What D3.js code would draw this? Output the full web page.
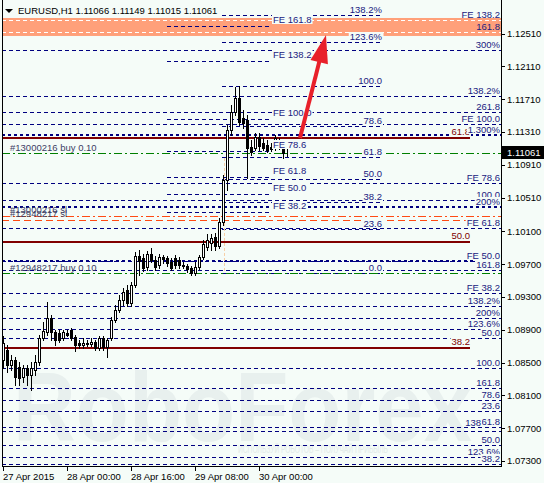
<!DOCTYPE html>
<html><head><meta charset="utf-8">
<script src="https://cdn.jsdelivr.net/npm/d3@7/dist/d3.min.js"></script>
<style>body{margin:0;background:#f5fcf8;}svg{display:block;}</style>
</head><body>
<svg id="c" width="544" height="483"></svg>
<script>
// ---------- DATA ----------
const symbolTitle = "EURUSD,H1  1.11066 1.11149 1.11015 1.11061";
const openP  = [1.08531,1.08653,1.08470,1.08531,1.08445,1.08323,1.08433,1.08348,1.08409,1.08506,1.08799,1.08872,1.09043,1.08872,1.08860,1.08799,1.08860,1.08896,1.08811,1.08738,1.08713,1.08738,1.08726,1.08750,1.08677,1.08799,1.08689,1.08799,1.09018,1.09140,1.09262,1.09384,1.09225,1.09445,1.09798,1.09774,1.09664,1.09823,1.09749,1.09689,1.09786,1.09774,1.09725,1.09774,1.09749,1.09689,1.09676,1.09652,1.09591,1.09664,1.09786,1.09908,1.09957,1.10030,1.09920,1.10213,1.10725,1.11334,1.11553,1.11724,1.11480,1.11456,1.11127,1.11115,1.11249,1.11175,1.11151,1.11127,1.11115,1.11139,1.11151,1.11066];
const highP  = [1.08823,1.08713,1.08592,1.08567,1.08506,1.08470,1.08470,1.08506,1.08592,1.08835,1.08994,1.09238,1.09079,1.08896,1.08896,1.08896,1.08896,1.08921,1.08835,1.08774,1.08799,1.08774,1.08799,1.08774,1.08823,1.08823,1.08799,1.09055,1.09201,1.09323,1.09408,1.09445,1.09481,1.09847,1.09871,1.09823,1.09859,1.09896,1.09798,1.09823,1.09810,1.09798,1.09774,1.09810,1.09786,1.09725,1.09701,1.09676,1.09725,1.09810,1.09993,1.10066,1.10066,1.10079,1.10261,1.10785,1.11395,1.11639,1.11858,1.11870,1.11578,1.11517,1.11212,1.11297,1.11297,1.11236,1.11212,1.11175,1.11273,1.11236,1.11212,1.11149];
const lowP   = [1.08433,1.08384,1.08409,1.08226,1.08226,1.08263,1.08226,1.08165,1.08348,1.08470,1.08774,1.08835,1.08774,1.08713,1.08750,1.08774,1.08823,1.08774,1.08640,1.08677,1.08677,1.08701,1.08701,1.08653,1.08653,1.08653,1.08567,1.08774,1.08994,1.09116,1.09201,1.09189,1.09189,1.09420,1.09567,1.09615,1.09628,1.09725,1.09628,1.09652,1.09713,1.09676,1.09628,1.09652,1.09652,1.09652,1.09603,1.09567,1.09567,1.09640,1.09762,1.09871,1.09871,1.09871,1.09896,1.10176,1.10603,1.11273,1.11517,1.11395,1.11358,1.10749,1.11029,1.11090,1.11090,1.11090,1.11066,1.11078,1.11090,1.11102,1.10993,1.11015];
const closeP = [1.08738,1.08470,1.08531,1.08323,1.08311,1.08433,1.08348,1.08433,1.08506,1.08799,1.08884,1.09043,1.08872,1.08774,1.08774,1.08872,1.08835,1.08799,1.08713,1.08713,1.08738,1.08726,1.08750,1.08677,1.08799,1.08689,1.08774,1.09018,1.09140,1.09262,1.09359,1.09225,1.09445,1.09798,1.09737,1.09652,1.09823,1.09749,1.09664,1.09786,1.09762,1.09713,1.09652,1.09689,1.09689,1.09676,1.09640,1.09591,1.09664,1.09786,1.09944,1.09993,1.10018,1.09920,1.10213,1.10725,1.11334,1.11553,1.11724,1.11431,1.11419,1.11115,1.11066,1.11249,1.11139,1.11115,1.11090,1.11102,1.11236,1.11212,1.11054,1.11061];

const xTickBars   = [0, 16, 32, 48, 64];
const xTickLabels = ["27 Apr 2015", "28 Apr 00:00", "28 Apr 16:00", "29 Apr 08:00", "30 Apr 00:00"];
const yTickValues = [1.12510,1.12110,1.11710,1.11310,1.10910,1.10510,1.10100,1.09700,1.09300,1.08900,1.08500,1.08100,1.07700,1.07300];
const yTickLabels = ["1.12510","1.12110","1.11710","1.11310","1.10910","1.10510","1.10100","1.09700","1.09300","1.08900","1.08500","1.08100","1.07700","1.07300"];
const lastPrice = 1.11061;
const lastPriceLabel = "1.11061";

// target zone rectangle (price band)
const zonePrices = [1.12699, 1.12480];

// Fibo retracement (middle)
const fiboALevels = [1.12741,1.12408,1.11870,1.11382,1.10999,1.10731,1.10462,1.10129,1.09591];
const fiboALabels = ["138.2%","123.6%","100.0","78.6","61.8","50.0","38.2","23.6","0.0"];
const fiboABars   = [54.75, 94.75];

// Fibo expansion (left-labelled)
const fiboBLevels = [1.12602,1.12169,1.11468,1.11076,1.10767,1.10551,1.10334];
const fiboBLabels = ["FE 161.8","FE 138.2","FE 100.0","FE 78.6","FE 61.8","FE 50.0","FE 38.2"];
const fiboBBars   = [41, 67.25];

// Fibo expansion (right-labelled)
const fiboCLevels = [1.12680,1.11407,1.10694,1.10134,1.09741,1.09347];
const fiboCLabels = ["FE 138.2","FE 100.0","FE 78.6","FE 61.8","FE 50.0","FE 38.2"];

// Other fibo levels (right-labelled)
const fiboDLevels = [1.12528,1.12309,1.11748,1.11559,1.10481,1.09628,1.09189,1.09043,1.08908,1.08799,1.08439,1.08189,1.08043,1.07909,1.07714,1.07665,1.07495,1.07348,1.07263];
const fiboDLabels = ["161.8","300%","138.2%","261.8","100.0","161.8","138.2%","200%","123.6%","50.0","100.0","161.8","78.6","23.6","61.8","138","50.0","123.6%","38.2"];

// Bold dotted levels
const fiboELevels = [1.11267, 1.10395, 1.09743];
const fiboELabels = ["1.300%", "200%", ""];

// Maroon retracement
const fiboFLevels = [1.11236, 1.09969, 1.08677];
const fiboFLabels = ["61.8", "50.0", "38.2"];
const fiboFBars   = [-0.25, 116.75];

// Orders
const buyPrices = [1.11054, 1.09597];
const buyLabels = ["#13000216 buy 0.10", "#12948217 buy 0.10"];
const slPrices  = [1.10286, 1.10237];
const slLabels  = ["#13000216 sl", "#12948217 sl"];

// vertical trace and arrow
const traceBar = 55.25;
const tracePrices = [1.10993, 1.09591];
const arrowFrom = {bar: 74.25, price: 1.11236};
const arrowTo   = {bar: 80.75, price: 1.12492};

const watermark = "RoboForex";
const watermarkSub = "ИСПОЛЬЗУЙ РОБОТОВ – ПОЛУЧАЙ ПРИБЫЛЬ";

// ---------- DRAW ----------
const BG = "#f5fcf8", NAVY = "#000080", MAROON = "#800000";
const svg = d3.select("#c")
  .attr("font-family", "'Liberation Sans', Arial, sans-serif")
  .attr("font-size", "9.5px");
svg.append("rect").attr("width", 544).attr("height", 483).attr("fill", BG);

const x = d3.scaleLinear().domain([-0.25, 124.5]).range([2, 501]);
const y = d3.scaleLinear().domain([1.072388, 1.129183]).range([466, 0]);
const cy = p => Math.round(y(p)) + 0.5;
const cx = b => Math.round(x(b)) + 0.5;

// watermark
svg.append("text").attr("x", 13).attr("y", 441)
  .attr("font-weight", "bold").attr("font-size", 98)
  .attr("textLength", 459).attr("lengthAdjust", "spacingAndGlyphs")
  .attr("fill", "#e8f0ee").text(watermark);
svg.append("text").attr("x", 238).attr("y", 453).attr("font-size", 10)
  .attr("textLength", 150).attr("lengthAdjust", "spacingAndGlyphs")
  .attr("fill", "#e2eae8").text(watermarkSub);

// zone band
svg.append("rect").attr("x", x(-0.25)).attr("width", x(124.5) - x(-0.25))
  .attr("y", y(zonePrices[0])).attr("height", y(zonePrices[1]) - y(zonePrices[0]))
  .attr("fill", "#ffa07a");

const lines = svg.append("g");
const inZone = p => p <= zonePrices[0] && p >= zonePrices[1];
function hline(p, b0, b1, color, w, dash) {
  const yy = w === 2 ? Math.round(y(p)) : cy(p);
  lines.append("line").attr("x1", x(b0)).attr("x2", x(b1))
    .attr("y1", yy).attr("y2", yy)
    .attr("stroke", color).attr("stroke-width", w)
    .attr("stroke-dasharray", dash || null);
}
const FULL = [-0.25, 124.5];

fiboCLevels.forEach(p => hline(p, FULL[0], FULL[1], inZone(p) ? "#ffffff" : NAVY, 1, "4,3"));
fiboDLevels.forEach(p => hline(p, FULL[0], FULL[1], inZone(p) ? "#ffffff" : NAVY, 1, "4,3"));
fiboELevels.forEach(p => hline(p, FULL[0], FULL[1], NAVY, 2, "3,3"));
fiboALevels.forEach(p => hline(p, fiboABars[0], fiboABars[1], NAVY, 1, "4,3"));
fiboBLevels.forEach(p => hline(p, fiboBBars[0], fiboBBars[1], NAVY, 1, "4,3"));
fiboFLevels.forEach(p => hline(p, fiboFBars[0], fiboFBars[1], MAROON, 2, null));
buyPrices.forEach(p => hline(p, FULL[0], FULL[1], "#008000", 1, "8,3,2,3"));
hline(slPrices[0], FULL[0], FULL[1], "#ff4a14", 1, "8,3,2,3");
hline(slPrices[1], FULL[0], FULL[1], "#ff4a14", 1, "7,4");

// vertical trace
lines.append("line").attr("x1", cx(traceBar)).attr("x2", cx(traceBar))
  .attr("y1", y(tracePrices[0])).attr("y2", y(tracePrices[1]))
  .attr("stroke", "#f7cfa6").attr("stroke-dasharray", "3,2");

// candles
const cg = svg.append("g");
openP.forEach((o, i) => {
  const c = closeP[i], h = highP[i], l = lowP[i];
  const xc = cx(i);
  cg.append("line").attr("x1", xc).attr("x2", xc)
    .attr("y1", Math.round(y(h))).attr("y2", Math.round(y(l)) + 1)
    .attr("stroke", "#000");
  const top = Math.round(y(Math.max(o, c))), bot = Math.round(y(Math.min(o, c)));
  cg.append("rect").attr("x", xc - 1).attr("width", 2)
    .attr("y", top + 0.5).attr("height", Math.max(bot - top, 0))
    .attr("fill", c >= o ? "#ffffff" : "#000000").attr("stroke", "#000");
});

// labels
const lg = svg.append("g");
function label(txt, px, py, anchor, color, withBg) {
  if (!txt) return;
  const g = lg.append("g");
  const t = g.append("text").attr("x", px).attr("y", py)
    .attr("text-anchor", anchor).attr("fill", color).text(txt);
  if (withBg) {
    const b = t.node().getBBox();
    g.insert("rect", "text").attr("x", b.x - 1).attr("y", py - 8)
      .attr("width", b.width + 2).attr("height", 9).attr("fill", BG);
  }
  return t;
}
const LBL = "#202080";
// right edge of the right-hand labels; a label that shares its row with another one is pushed left of it
const rightEdge = (i) => (fiboDLabels[i] === "138" ? 481 : 500);
fiboCLevels.forEach((p, i) => label(fiboCLabels[i], 500, Math.round(y(p)) - 2, "end", LBL, !inZone(p)));
fiboFLevels.forEach((p, i) => label(fiboFLabels[i], x(fiboFBars[1]), Math.round(y(p)) - 3, "end", MAROON, true));
fiboDLevels.forEach((p, i) => label(fiboDLabels[i], rightEdge(i), Math.round(y(p)) - (fiboDLabels[i] === "138" ? 5 : 2), "end", LBL, !inZone(p)));
fiboELevels.forEach((p, i) => label(fiboELabels[i], 500, Math.round(y(p)) - 2, "end", LBL, true));
fiboALevels.forEach((p, i) => label(fiboALabels[i], x(fiboABars[1]), Math.round(y(p)) - 2, "end", LBL, true));
fiboBLevels.forEach((p, i) => label(fiboBLabels[i], x(fiboBBars[1]) + 1, Math.round(y(p)) - 3, "start", LBL, true));
buyPrices.forEach((p, i) => label(buyLabels[i], 10, Math.round(y(p)) - 2, "start", "#3c3c64", false));
slPrices.forEach((p, i) => label(slLabels[i], 10, Math.round(y(p)) - 3, "start", "#3c3c64", false));

// arrow
{
  const sx = x(arrowFrom.bar), sy = y(arrowFrom.price);
  const tx = x(arrowTo.bar), ty = y(arrowTo.price);
  const len = Math.hypot(tx - sx, ty - sy), ux = (tx - sx) / len, uy = (ty - sy) / len;
  const hl = 28, hw = 9;
  const bx = tx - ux * hl, by = ty - uy * hl;
  svg.append("line").attr("x1", sx).attr("y1", sy).attr("x2", bx + ux * 2).attr("y2", by + uy * 2)
    .attr("stroke", "#e8202a").attr("stroke-width", 4);
  svg.append("path").attr("d", `M${tx},${ty}L${bx - uy * hw},${by + ux * hw}L${bx + uy * hw},${by - ux * hw}Z`)
    .attr("fill", "#e8202a");
}

// axes
const ax = svg.append("g");
ax.append("line").attr("x1", 501.5).attr("x2", 501.5).attr("y1", 0).attr("y2", 466).attr("stroke", "#000");
ax.append("line").attr("x1", 2.5).attr("x2", 2.5).attr("y1", 0).attr("y2", 466).attr("stroke", "#000");
ax.append("line").attr("x1", 2).attr("x2", 502).attr("y1", 466.5).attr("y2", 466.5).attr("stroke", "#000");
yTickValues.forEach((v, i) => {
  ax.append("line").attr("x1", 501).attr("x2", 505).attr("y1", cy(v)).attr("y2", cy(v)).attr("stroke", "#000");
  ax.append("text").attr("x", 507).attr("y", y(v) + 3.5).attr("fill", "#000").text(yTickLabels[i]);
});
xTickBars.forEach((b, i) => {
  ax.append("line").attr("x1", cx(b)).attr("x2", cx(b)).attr("y1", 466).attr("y2", 471).attr("stroke", "#000");
  ax.append("text").attr("x", x(b)).attr("y", 479.5).attr("fill", "#000").text(xTickLabels[i]);
});
// current price tag
ax.append("rect").attr("x", 502).attr("y", Math.round(y(lastPrice)) - 6).attr("width", 42).attr("height", 13).attr("fill", "#000");
ax.append("text").attr("x", 507).attr("y", Math.round(y(lastPrice)) + 4).attr("fill", "#fff").text(lastPriceLabel);

// title
svg.append("path").attr("d", "M5,9L13,9L9,13Z").attr("fill", "#000");
svg.append("text").attr("x", 18).attr("y", 13.5).attr("fill", "#000").text(symbolTitle);
</script>
</body></html>
